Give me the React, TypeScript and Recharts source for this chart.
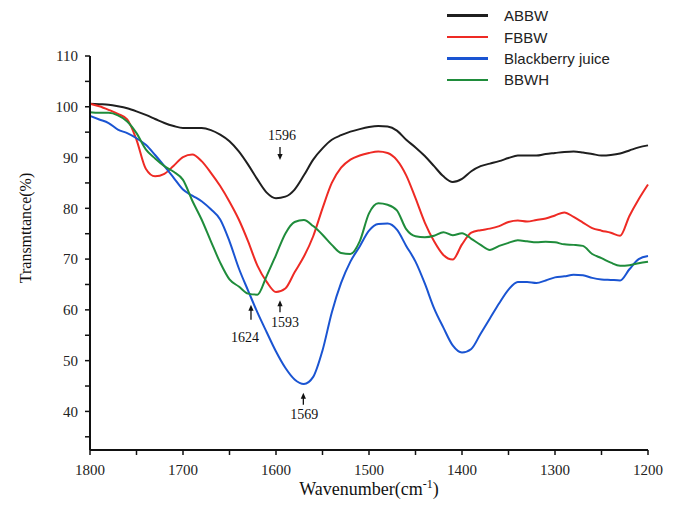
import { LineChart, Line, XAxis, YAxis, Legend, ReferenceDot, Label } from 'recharts'

// wavenumber grid, cm-1 (10 cm-1 steps)
const wavenumbers = [
  1800, 1790, 1780, 1770, 1760, 1750, 1740, 1730, 1720, 1710,
  1700, 1690, 1680, 1670, 1660, 1650, 1640, 1630, 1620, 1610,
  1600, 1590, 1580, 1570, 1560, 1550, 1540, 1530, 1520, 1510,
  1500, 1490, 1480, 1470, 1460, 1450, 1440, 1430, 1420, 1410,
  1400, 1390, 1380, 1370, 1360, 1350, 1340, 1330, 1320, 1310,
  1300, 1290, 1280, 1270, 1260, 1250, 1240, 1230, 1220, 1210, 1200,
]

const abbw = [
  100.6, 100.5, 100.4, 100.1, 99.7, 99.1, 98.4, 97.6, 96.8, 96.2,
  95.8, 95.8, 95.8, 95.4, 94.5, 93.2, 91.2, 88.6, 85.7, 83.1,
  82.0, 82.3, 83.7, 86.5, 89.6, 91.8, 93.5, 94.4, 95.1, 95.6,
  96.0, 96.2, 96.1, 95.3, 93.5, 92.0, 90.3, 88.3, 86.3, 85.2,
  85.8, 87.3, 88.3, 88.8, 89.3, 89.9, 90.4, 90.4, 90.4, 90.7,
  90.9, 91.1, 91.2, 91.0, 90.7, 90.4, 90.5, 90.8, 91.4, 92.0, 92.4,
]

const fbbw = [
  100.6, 100.1, 99.4, 98.6, 97.5, 93.5, 87.8, 86.3, 86.8, 88.4,
  90.1, 90.6, 89.3, 87.0, 84.4, 81.3, 77.8, 73.5, 68.7, 65.5,
  63.5, 64.2, 67.4, 70.5, 74.5, 80.0, 85.0, 88.0, 89.6, 90.4,
  90.9, 91.2, 90.9, 89.5, 86.5, 82.0, 77.2, 73.5, 70.8, 69.9,
  72.9, 75.2, 75.7, 76.0, 76.5, 77.3, 77.6, 77.4, 77.7, 78.0,
  78.6, 79.2, 78.3, 77.2, 76.1, 75.6, 75.2, 74.6, 78.5, 81.8, 84.7,
]

const juice = [
  98.2, 97.5, 96.8, 95.5, 94.8, 93.8, 92.5, 90.5, 88.3, 86.0,
  83.7, 82.5, 81.4, 79.8, 77.8, 73.5, 68.2, 63.8, 59.5, 55.6,
  51.8, 48.6, 46.3, 45.4, 46.8, 52.0, 59.5, 65.3, 69.5, 72.5,
  75.6, 76.9, 77.0, 75.8, 72.6, 69.5, 65.2, 60.3, 56.5, 53.0,
  51.6, 52.3, 55.3, 58.3, 61.3, 64.0, 65.5, 65.5, 65.3, 65.8,
  66.4, 66.6, 66.9, 66.8, 66.3, 66.0, 65.9, 65.8, 68.0, 70.0, 70.6,
]

const bbwh = [
  98.9, 98.8, 98.8, 98.3, 97.1, 94.8, 91.6, 89.8, 88.3, 87.2,
  85.6, 81.5, 77.8, 73.5, 69.3, 66.0, 64.6, 63.2, 63.0, 66.7,
  70.8, 75.0, 77.3, 77.7, 76.5, 74.8, 72.8, 71.2, 71.0, 73.5,
  79.0, 81.0, 80.7, 79.6, 75.9, 74.5, 74.3, 74.6, 75.3, 74.7,
  75.1, 74.0, 72.8, 71.8, 72.6, 73.2, 73.7, 73.5, 73.3, 73.4,
  73.3, 72.9, 72.8, 72.6, 71.0, 70.2, 69.3, 68.7, 68.8, 69.2, 69.5,
]

const xTicks = [1800, 1750, 1700, 1650, 1600, 1550, 1500, 1450, 1400, 1350, 1300, 1250, 1200]
const yTicks = [35, 40, 45, 50, 55, 60, 65, 70, 75, 80, 85, 90, 95, 100, 105, 110]

const seriesNames = ['ABBW', 'FBBW', 'Blackberry juice', 'BBWH']
const seriesKeys = ['abbw', 'fbbw', 'juice', 'bbwh']
const seriesColors = ['#1f1f1f', '#ee2a24', '#1a54d2', '#1f8c3b']

// peak markers: label, wavenumber at arrow, transmittance at arrow tip, arrow direction
const peakLabels = ['1596', '1624', '1593', '1569']
const peakWavenumbers = [1595.7, 1626.9, 1595.7, 1570.6]
const peakTips = [89.5, 61.0, 61.9, 43.7]
const peakDirs = ['down', 'up', 'up', 'up']

const labelNudge: Record<string, { dx: number; dy: number; len: number }> = {
  '1596': { dx: 2, dy: -20, len: 13 },
  '1624': { dx: -6, dy: 37, len: 15 },
  '1593': { dx: 5, dy: 27, len: 12 },
  '1569': { dx: 1, dy: 26, len: 12 },
}

const data = wavenumbers.map((w, i) => ({
  w,
  abbw: abbw[i],
  fbbw: fbbw[i],
  juice: juice[i],
  bbwh: bbwh[i],
}))

const serif = '"Liberation Serif", "Times New Roman", serif'
const tickStyle = { fill: '#222', fontSize: 15, fontFamily: serif }

function PeakMark(props: any) {
  const { cx, cy, text, dir } = props
  const n = labelNudge[text]
  if (cx == null || cy == null) return null
  const s = dir === 'down' ? -1 : 1
  return (
    <g>
      <line x1={cx} y1={cy + s * 4} x2={cx} y2={cy + s * n.len} stroke="#111" strokeWidth={1.3} />
      <polygon
        points={`${cx - 2.6},${cy + s * 6} ${cx + 2.6},${cy + s * 6} ${cx},${cy}`}
        fill="#111"
      />
      <text
        x={cx + n.dx}
        y={cy + n.dy}
        textAnchor="middle"
        fontFamily={serif}
        fontSize={14}
        fill="#111"
      >
        {text}
      </text>
    </g>
  )
}

function LegendBox() {
  return (
    <div style={{ fontFamily: '"Liberation Sans", Arial, sans-serif', fontSize: 15, color: '#222' }}>
      {seriesNames.map((name, i) => (
        <div key={name} style={{ display: 'flex', alignItems: 'center', height: 21.4 }}>
          <span
            style={{ display: 'inline-block', width: 41, height: 2.5, background: seriesColors[i], marginRight: 16 }}
          />
          <span>{name}</span>
        </div>
      ))}
    </div>
  )
}

export default function App() {
  return (
    <div style={{ position: 'absolute', left: 0, top: 0, background: '#fff', fontFamily: serif }}>
      <LineChart
        width={678}
        height={509}
        data={data}
        margin={{ top: 56, right: 30, bottom: 29, left: 50 }}
        style={{ fontFamily: serif }}
      >
        <XAxis
          dataKey="w"
          type="number"
          domain={[1200, 1800]}
          reversed
          ticks={xTicks}
          interval={0}
          tickFormatter={(v: number) => (v % 100 === 0 ? String(v) : '')}
          tick={tickStyle}
          tickSize={5}
          tickMargin={9}
          height={30}
          axisLine={{ stroke: '#111', strokeWidth: 2 }}
          tickLine={{ stroke: '#111', strokeWidth: 1.5 }}
        >
          <Label
            content={(p: any) => {
              const vb = p.viewBox
              return (
                <text
                  x={vb.x + vb.width / 2}
                  y={vb.y + 45}
                  textAnchor="middle"
                  fontFamily={serif}
                  fontSize={18}
                  fill="#111"
                >
                  Wavenumber(cm
                  <tspan dy={-7} fontSize={12}>-1</tspan>
                  <tspan dy={7}>)</tspan>
                </text>
              )
            }}
          />
        </XAxis>
        <YAxis
          type="number"
          domain={[32.4, 110]}
          ticks={yTicks}
          interval={0}
          tickFormatter={(v: number) => (v % 10 === 0 ? String(v) : '')}
          tick={tickStyle}
          tickSize={5}
          tickMargin={7}
          width={40}
          axisLine={{ stroke: '#111', strokeWidth: 2 }}
          tickLine={{ stroke: '#111', strokeWidth: 1.5 }}
        >
          <Label
            content={(p: any) => {
              const vb = p.viewBox
              const x = vb.x - 25
              const y = vb.y + vb.height / 2 - 25
              return (
                <text
                  x={x}
                  y={y}
                  transform={`rotate(-90, ${x}, ${y})`}
                  textAnchor="middle"
                  dominantBaseline="central"
                  fontFamily={serif}
                  fontSize={16}
                  fill="#111"
                >
                  Transmttance(%)
                </text>
              )
            }}
          />
        </YAxis>
        <Legend
          layout="vertical"
          align="center"
          verticalAlign="middle"
          content={<LegendBox />}
          wrapperStyle={{ top: 5, left: 447, width: 220 }}
        />
        {seriesKeys.map((k, i) => (
          <Line
            key={k}
            type="monotone"
            dataKey={k}
            name={seriesNames[i]}
            stroke={seriesColors[i]}
            strokeWidth={2}
            dot={false}
            activeDot={false}
            isAnimationActive={false}
          />
        ))}
        {peakLabels.map((lab, i) => (
          <ReferenceDot
            key={lab}
            x={peakWavenumbers[i]}
            y={peakTips[i]}
            r={0}
            shape={(p: any) => <PeakMark {...p} text={lab} dir={peakDirs[i]} />}
          />
        ))}
      </LineChart>
    </div>
  )
}
